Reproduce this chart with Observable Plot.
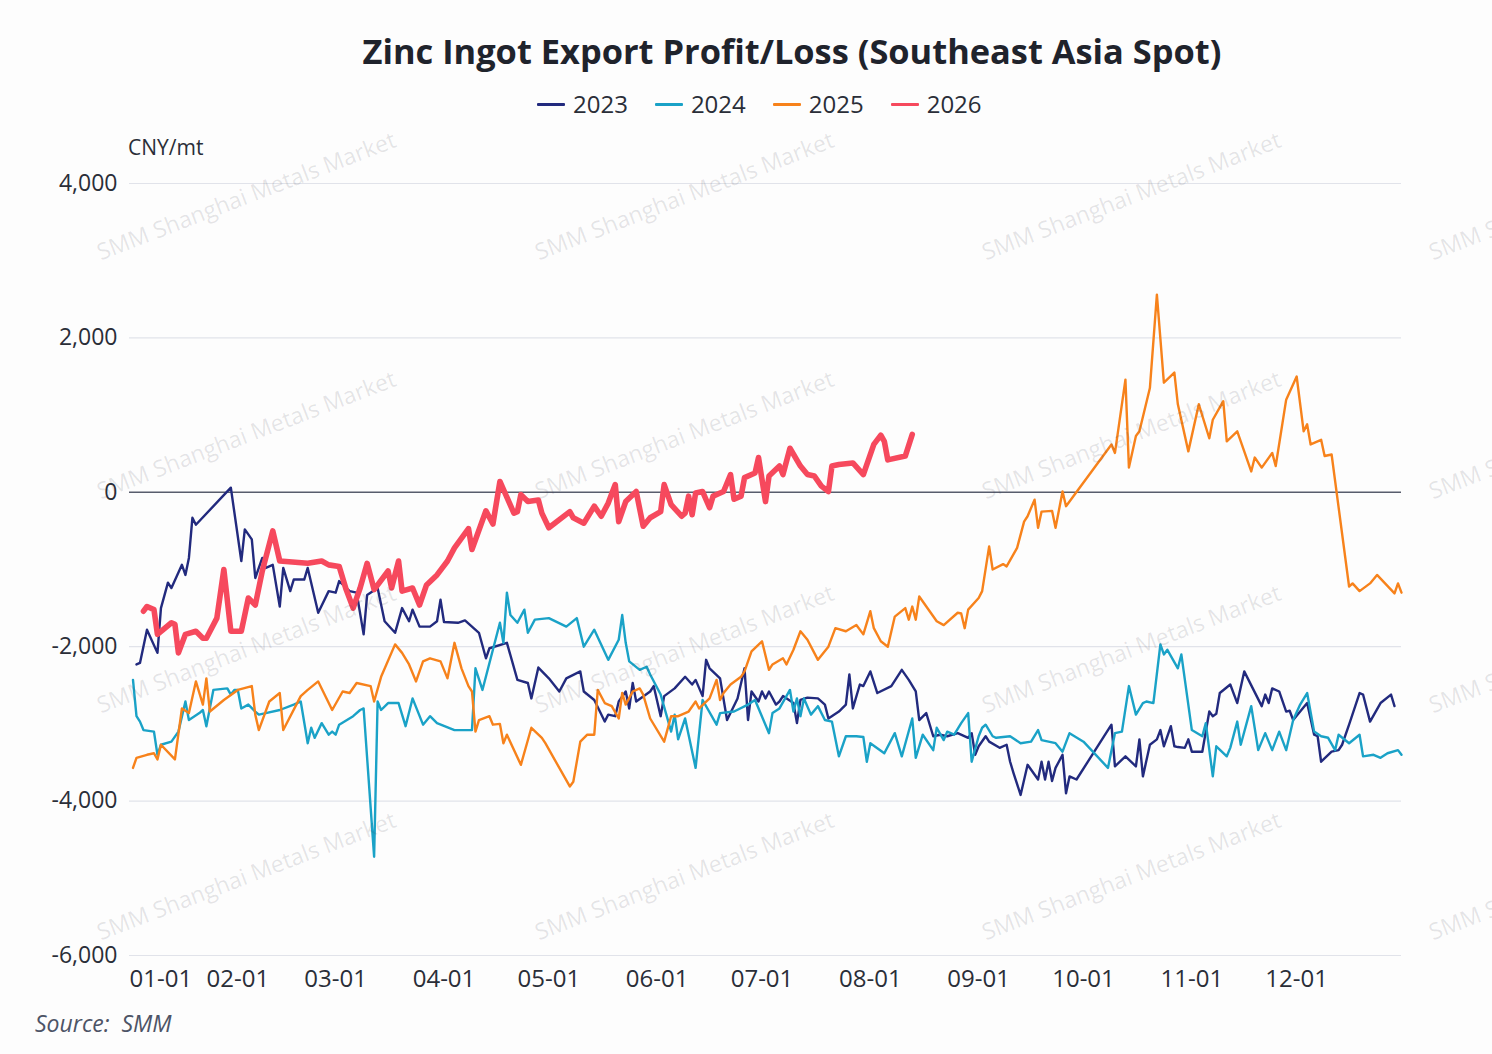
<!DOCTYPE html>
<html>
<head>
<meta charset="utf-8">
<script src="https://cdn.jsdelivr.net/npm/d3@7"></script>
<script src="https://cdn.jsdelivr.net/npm/@observablehq/plot@0.6"></script>
<style>
  html, body { margin: 0; padding: 0; background: #fdfdfd; }
  body { width: 1492px; height: 1054px; position: relative; overflow: hidden;
         font-family: "Open Sans", "Noto Sans", sans-serif; color: #2a2e38; }
  #title { position: absolute; top: 34px; left: 46px; width: 1492px; text-align: center;
           font-size: 34.4px; line-height: 34px; font-weight: 700; color: #1f232c; white-space: nowrap; }
  #legend { position: absolute; top: 92px; left: 537px; display: flex; gap: 27px;
            font-size: 24px; line-height: 24px; color: #2a2e38; }
  .item { display: flex; align-items: center; gap: 8px; }
  .sw { width: 28px; height: 3px; border-radius: 1px; }
  #unit { position: absolute; top: 137px; left: 128px; font-size: 21px; line-height: 21px; color: #2a2e38; }
  #source { position: absolute; top: 1012px; left: 35px; font-size: 23px; line-height: 23px;
            font-style: italic; color: #4d5466; white-space: pre; }
  #chart { position: absolute; top: 130px; left: 0; }
  #wms { position: absolute; left: 0; top: 0; width: 1492px; height: 1054px; overflow: hidden; pointer-events: none; }
  .wm { position: absolute; transform: translate(-50%, -50%) rotate(-21deg); font-size: 23px;
        color: rgba(60, 60, 70, 0.13); white-space: nowrap; pointer-events: none; }
</style>
</head>
<body>
<div id="title">Zinc Ingot Export Profit/Loss (Southeast Asia Spot)</div>
<div id="legend"></div>
<div id="unit">CNY/mt</div>
<div id="chart"></div>
<div id="source">Source:  SMM</div>
<div id="wms"></div>
<script>
// x values: days since 01-01 (common non-leap calendar); y values: CNY/mt
const years = ["2023", "2024", "2025", "2026"];
const colors = ["#222a7e", "#1aa2c7", "#f7821b", "#f6495d"];
const yTicks = [4000, 2000, 0, -2000, -4000, -6000];
const watermarkText = "SMM Shanghai Metals Market";

const days2023 = [2,3,5,8,9,11,12,15,16,17,18,19,29,32,33,35,36,38,39,41,43,44,46,47,50,51,54,57,59,60,63,65,67,68,71,73,76,78,80,81,83,86,88,89,90,94,96,100,102,103,108,111,114,115,117,120,123,125,129,130,133,136,137,139,140,142,143,144,145,149,150,152,153,156,159,161,162,164,165,166,169,171,174,176,177,178,180,181,182,183,185,186,187,190,191,192,194,197,199,200,203,205,206,207,209,210,212,214,218,221,223,225,226,228,230,232,234,237,240,241,242,243,245,246,249,251,252,253,255,257,260,261,262,263,264,265,267,268,269,271,281,282,285,288,289,290,292,294,295,296,298,299,300,302,303,304,307,309,310,311,312,315,317,319,324,325,326,327,329,331,332,333,337,339,340,341,344,346,347,349,352,353,355,358,361,362];
const vals2023 = [-2230,-2210,-1780,-2080,-1500,-1170,-1240,-940,-1070,-850,-330,-420,60,-890,-480,-610,-1110,-850,-980,-940,-1480,-980,-1280,-1130,-1130,-980,-1560,-1280,-1300,-1150,-1280,-1300,-1840,-1330,-1240,-1670,-1820,-1500,-1670,-1520,-1740,-1740,-1670,-1390,-1680,-1690,-1660,-1820,-2150,-2020,-1950,-2430,-2470,-2670,-2270,-2410,-2580,-2410,-2320,-2580,-2690,-2970,-2880,-2900,-2710,-2580,-2800,-2470,-2710,-2580,-2510,-2900,-2640,-2540,-2390,-2490,-2430,-2640,-2170,-2280,-2410,-2950,-2670,-2280,-2950,-2580,-2710,-2580,-2670,-2580,-2750,-2710,-2640,-2730,-2990,-2690,-2660,-2670,-2750,-2930,-2840,-2750,-2360,-2800,-2490,-2510,-2320,-2600,-2510,-2300,-2430,-2580,-2950,-2860,-3160,-3140,-3160,-3120,-3180,-3120,-3400,-3290,-3160,-3230,-3310,-3270,-3490,-3640,-3920,-3530,-3720,-3490,-3720,-3490,-3740,-3570,-3400,-3900,-3680,-3720,-3010,-3550,-3420,-3550,-3200,-3680,-3270,-3200,-3080,-3290,-3030,-3290,-3300,-3310,-3200,-3360,-3360,-2840,-2900,-2870,-2600,-2490,-2730,-2320,-2770,-2620,-2730,-2540,-2580,-2840,-2830,-2950,-2730,-3140,-3160,-3490,-3360,-3340,-3270,-3010,-2600,-2620,-2970,-2730,-2620,-2770];

const days2024 = [1,2,3,4,7,8,9,12,14,16,17,20,21,22,24,28,29,30,31,32,34,36,37,39,43,47,49,51,52,53,55,57,58,59,60,64,66,67,70,71,72,74,77,79,81,84,86,88,93,98,99,101,106,107,108,109,111,113,114,116,120,125,128,130,133,137,140,141,142,143,146,148,149,152,155,156,157,159,162,164,168,169,173,177,179,183,184,186,189,190,191,192,193,195,197,199,201,203,205,208,210,211,212,216,219,221,224,225,227,230,231,233,234,236,238,240,241,243,244,245,247,248,252,255,258,260,261,265,267,269,273,280,282,284,286,288,290,291,293,295,296,297,300,301,304,307,308,310,311,314,315,317,318,321,323,325,327,329,331,333,335,337,339,341,343,345,346,349,352,353,356,358,360,363,364];
const vals2024 = [-2430,-2900,-2970,-3080,-3100,-3400,-3270,-3230,-3100,-2710,-2950,-2860,-2820,-3030,-2560,-2540,-2620,-2560,-2560,-2800,-2750,-2840,-2880,-2860,-2820,-2750,-2710,-3250,-3050,-3180,-2990,-3140,-3100,-3140,-3010,-2900,-2820,-2800,-4720,-2710,-2820,-2730,-2730,-3030,-2670,-3010,-2900,-2990,-3080,-3080,-2280,-2560,-1690,-1950,-1300,-1590,-1690,-1520,-1820,-1650,-1630,-1740,-1630,-2000,-1780,-2170,-1910,-1590,-1950,-2190,-2300,-2260,-2360,-2620,-3100,-2880,-3200,-2930,-3570,-2690,-3010,-2860,-2840,-2750,-2690,-3120,-2860,-2800,-2560,-2840,-2670,-2900,-2670,-2880,-2770,-2950,-2970,-3420,-3160,-3160,-3170,-3490,-3250,-3380,-3120,-3420,-2930,-3440,-3140,-3340,-3050,-3210,-3100,-3140,-2990,-2860,-3490,-3160,-3050,-3010,-3160,-3180,-3160,-3250,-3230,-3080,-3210,-3250,-3360,-3120,-3230,-3570,-3120,-3100,-2510,-2880,-2730,-2710,-2730,-1970,-2100,-2040,-2280,-2100,-3080,-3160,-2990,-3680,-3290,-3420,-3310,-2970,-3270,-2770,-3340,-3120,-3340,-3100,-3340,-2950,-2750,-2600,-3100,-3160,-3180,-3340,-3140,-3250,-3140,-3420,-3400,-3440,-3380,-3340,-3400];

const days2025 = [1,2,5,7,8,9,13,15,17,19,21,22,23,27,31,35,36,37,40,43,44,49,51,54,58,61,63,65,69,70,72,76,78,80,82,84,86,89,91,93,95,97,98,99,100,103,104,106,107,108,112,115,118,119,126,127,129,131,133,134,136,138,140,141,142,144,146,147,149,153,155,157,160,162,163,166,168,169,170,172,175,176,178,181,183,184,187,188,190,192,194,197,200,202,205,208,210,212,213,215,217,219,222,223,224,225,226,231,233,237,238,239,240,243,244,246,247,250,251,254,256,257,259,260,261,264,265,267,268,281,282,285,286,288,289,292,294,296,299,300,303,306,309,310,313,314,317,321,322,324,327,328,331,334,336,337,338,341,342,344,349,350,352,355,357,362,363,364];
const vals2025 = [-3570,-3440,-3400,-3380,-3460,-3270,-3460,-2800,-2860,-2450,-2750,-2410,-2840,-2690,-2560,-2510,-2880,-3080,-2710,-2600,-3080,-2640,-2560,-2450,-2820,-2580,-2600,-2470,-2510,-2710,-2390,-1970,-2080,-2230,-2450,-2190,-2150,-2190,-2410,-1950,-2280,-2510,-2580,-3100,-2950,-2900,-3010,-3000,-3250,-3140,-3530,-3050,-3180,-3250,-3810,-3750,-3230,-3140,-3140,-2560,-2730,-2770,-2930,-2600,-2750,-2580,-2540,-2620,-2930,-3230,-2900,-2900,-2840,-2710,-2800,-2670,-2430,-2690,-2600,-2490,-2390,-2320,-2060,-1930,-2300,-2230,-2150,-2230,-2040,-1800,-1910,-2170,-2000,-1760,-1800,-1720,-1840,-1540,-1760,-1930,-2000,-1610,-1500,-1650,-1480,-1650,-1350,-1670,-1720,-1560,-1570,-1760,-1520,-1370,-1280,-700,-1000,-930,-960,-720,-380,-310,-95,-460,-250,-240,-460,10,-180,620,510,1460,320,730,790,1350,2560,1420,1550,1140,530,1140,700,940,1180,660,790,270,450,320,510,340,1200,1500,790,880,620,680,470,490,-1220,-1180,-1280,-1180,-1070,-1310,-1180,-1300];

const days2026 = [4,5,7,8,12,13,14,16,19,21,22,25,27,29,32,34,36,38,41,43,51,55,57,60,62,64,66,68,70,74,75,77,78,81,83,85,88,91,93,97,98,102,104,106,110,111,112,114,117,118,120,126,127,130,133,135,137,139,140,142,145,147,149,152,153,155,158,159,160,161,162,164,166,167,170,172,173,175,176,179,180,182,183,186,187,189,192,194,196,198,200,201,203,207,210,213,215,216,217,222,224];
const vals2026 = [-1540,-1480,-1520,-1840,-1690,-1710,-2080,-1840,-1800,-1890,-1890,-1630,-1000,-1800,-1800,-1370,-1460,-1020,-500,-890,-920,-890,-940,-960,-1260,-1500,-1240,-920,-1260,-1020,-1240,-890,-1280,-1240,-1460,-1200,-1070,-890,-720,-470,-740,-240,-410,140,-270,-250,-30,-120,-100,-270,-460,-250,-330,-400,-180,-310,-140,100,-380,-120,10,-440,-330,-250,100,-160,-310,-270,-50,-290,-10,10,-200,-50,10,230,-90,-50,190,250,450,-120,210,340,230,570,340,230,210,80,10,340,360,380,230,620,740,660,420,470,750];

const dayLists = [days2023, days2024, days2025, days2026];
const valLists = [vals2023, vals2024, vals2025, vals2026];
const widths = [2.4, 2.4, 2.4, 5.6];

const toDate = d => new Date(Date.UTC(2021, 0, 1 + d));
const seriesData = years.map((y, i) => dayLists[i].map((d, j) => ({date: toDate(d), value: valLists[i][j], year: y})));

const monthTicks = d3.utcMonth.range(toDate(0), toDate(365));
const fmtX = d3.utcFormat("%m-%d");
const fmtY = d => (d < 0 ? "-" : "") + d3.format(",")(Math.abs(d));

// legend
const legend = document.getElementById("legend");
years.forEach((y, i) => {
  const it = document.createElement("div");
  it.className = "item";
  it.innerHTML = `<span class="sw" style="background:${colors[i]}"></span><span>${y}</span>`;
  legend.appendChild(it);
});

// watermarks
const wmCols = [246, 684, 1131, 1578];
const wmRows = [195, 434, 648, 875];
const wms = document.getElementById("wms");
wmRows.forEach(r => wmCols.forEach(c => {
  const w = document.createElement("div");
  w.className = "wm";
  w.style.left = c + "px";
  w.style.top = r + "px";
  w.textContent = watermarkText;
  wms.appendChild(w);
}));

const chart = Plot.plot({
  width: 1492,
  height: 870,
  marginTop: 53,
  marginBottom: 45,
  marginLeft: 129,
  marginRight: 91,
  style: {background: "transparent", fontFamily: '"Open Sans", "Noto Sans", sans-serif', fontSize: "24px", color: "#2a2e38"},
  x: {type: "utc", domain: [toDate(0), toDate(364)]},
  y: {domain: [-6000, 4000]},
  marks: [
    Plot.gridY(yTicks.filter(v => v !== 0), {stroke: "#e1e3ea", strokeOpacity: 1, strokeWidth: 1.2}),
    Plot.ruleY([0], {stroke: "#585d6d", strokeWidth: 1.6}),
    Plot.axisY(yTicks, {tickSize: 0, tickPadding: 12, tickFormat: fmtY, label: null, fontSize: 23}),
    Plot.axisX(monthTicks.slice(0, 1), {tickSize: 0, tickPadding: 14, tickFormat: fmtX, textAnchor: "start", label: null, fontSize: 24}),
    Plot.axisX(monthTicks.slice(1), {tickSize: 0, tickPadding: 14, tickFormat: fmtX, label: null, fontSize: 24}),
    ...seriesData.map((data, i) => Plot.line(data, {x: "date", y: "value", stroke: colors[i], strokeWidth: widths[i], strokeLinejoin: "round", strokeLinecap: "round"}))
  ]
});
document.getElementById("chart").appendChild(chart);
</script>
</body>
</html>
